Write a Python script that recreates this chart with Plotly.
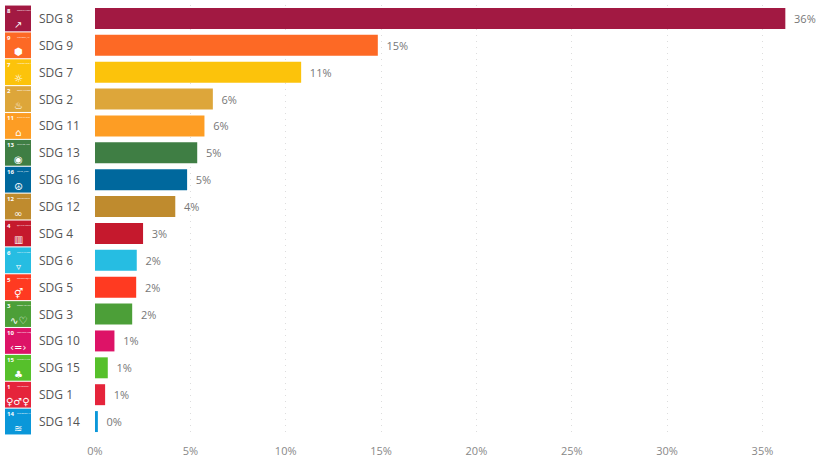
import plotly.graph_objects as go

# data (share of total, in %)
goals = ["SDG 8", "SDG 9", "SDG 7", "SDG 2", "SDG 11", "SDG 13", "SDG 16", "SDG 12",
         "SDG 4", "SDG 6", "SDG 5", "SDG 3", "SDG 10", "SDG 15", "SDG 1", "SDG 14"]
share = [36.2, 14.83, 10.81, 6.18, 5.74, 5.36, 4.83, 4.21,
         2.52, 2.19, 2.16, 1.95, 1.02, 0.67, 0.53, 0.15]
goal_num = [8, 9, 7, 2, 11, 13, 16, 12, 4, 6, 5, 3, 10, 15, 1, 14]
goal_titles = ["DECENT WORK AND ECONOMIC GROWTH", "INDUSTRY, INNOVATION AND INFRASTRUCTURE",
               "AFFORDABLE AND CLEAN ENERGY", "ZERO HUNGER", "SUSTAINABLE CITIES AND COMMUNITIES",
               "CLIMATE ACTION", "PEACE, JUSTICE AND STRONG INSTITUTIONS",
               "RESPONSIBLE CONSUMPTION AND PRODUCTION", "QUALITY EDUCATION",
               "CLEAN WATER AND SANITATION", "GENDER EQUALITY", "GOOD HEALTH AND WELL-BEING",
               "REDUCED INEQUALITIES", "LIFE ON LAND", "NO POVERTY", "LIFE BELOW WATER"]
glyphs = ["↗", "⬢", "☼", "♨", "⌂", "◉", "☮", "∞", "▥", "▿", "⚥", "∿♡", "‹=›", "♣", "♀♂♀", "≋"]
x_ticks = [0, 5, 10, 15, 20, 25, 30, 35]
x_tick_text = ["0%", "5%", "10%", "15%", "20%", "25%", "30%", "35%"]

sdg_colors = {1: "#E5243B", 2: "#DDA63A", 3: "#4C9F38", 4: "#C5192D", 5: "#FF3A21",
              6: "#26BDE2", 7: "#FCC30B", 8: "#A21942", 9: "#FD6925", 10: "#DD1367",
              11: "#FD9D24", 12: "#BF8B2E", 13: "#3F7E44", 14: "#0A97D9", 15: "#56C02B",
              16: "#00689D"}
colors = [sdg_colors[n] for n in goal_num]

W, H = 821, 465
L, R, T, B = 95, 11, 5, 30
PW = W - L - R


def px(x):
    # pixel x -> paper x
    return (x - L) / PW


fig = go.Figure(go.Bar(
    x=share, y=goals, orientation="h",
    marker=dict(color=colors, line_width=0),
    texttemplate="  %{x:.0f}%", textposition="outside", cliponaxis=False,
    textfont=dict(color="#777777", size=11),
    hoverinfo="skip",
))

shapes, annotations = [], []
for i, (g, n, t, gl, c) in enumerate(zip(goals, goal_num, goal_titles, glyphs, colors)):
    # icon square
    shapes.append(dict(type="rect", xref="paper", yref="y",
                       x0=px(5), x1=px(31), y0=i - 0.48, y1=i + 0.48,
                       fillcolor=c, line_width=0, layer="above"))
    annotations.append(dict(xref="paper", yref="y", x=px(5.5), y=i - 0.47,
                            xanchor="left", yanchor="top", showarrow=False, borderpad=0,
                            text=f"<b>{n}</b>", font=dict(size=6, color="white")))
    annotations.append(dict(xref="paper", yref="y", x=px(15.5), y=i - 0.40,
                            xanchor="left", yanchor="top", showarrow=False, borderpad=0,
                            text=t[:12], font=dict(size=2, color="white")))
    annotations.append(dict(xref="paper", yref="y", x=px(18), y=i + 0.24,
                            xanchor="center", yanchor="middle", showarrow=False, borderpad=0,
                            text=gl, font=dict(size=10, color="white", family="DejaVu Sans")))
    # category label
    annotations.append(dict(xref="paper", yref="y", x=px(37), y=i,
                            xanchor="left", yanchor="middle", showarrow=False,
                            text=g, font=dict(size=12, color="#555555")))

fig.update_layout(
    width=W, height=H,
    margin=dict(l=L, r=R, t=T, b=B),
    paper_bgcolor="white", plot_bgcolor="white",
    font=dict(family="Segoe UI, Open Sans, sans-serif", color="#777777"),
    bargap=0.22,
    showlegend=False,
    shapes=shapes,
    annotations=annotations,
)
fig.update_xaxes(
    range=[0, PW / 19.07], tickvals=x_ticks, ticktext=x_tick_text,
    showgrid=True, gridcolor="#dddddd", griddash="1px,5px", gridwidth=1,
    zeroline=False, showline=False, ticks="",
    tickfont=dict(size=11, color="#888888"), ticklabelstandoff=8,
)
fig.update_yaxes(
    range=[len(goals) - 0.5, -0.5], showticklabels=False, showgrid=False,
    zeroline=False, showline=False, ticks="",
)

fig.write_html("out.html", config={"displayModeBar": False},
               post_script="document.body.style.margin='0';")
